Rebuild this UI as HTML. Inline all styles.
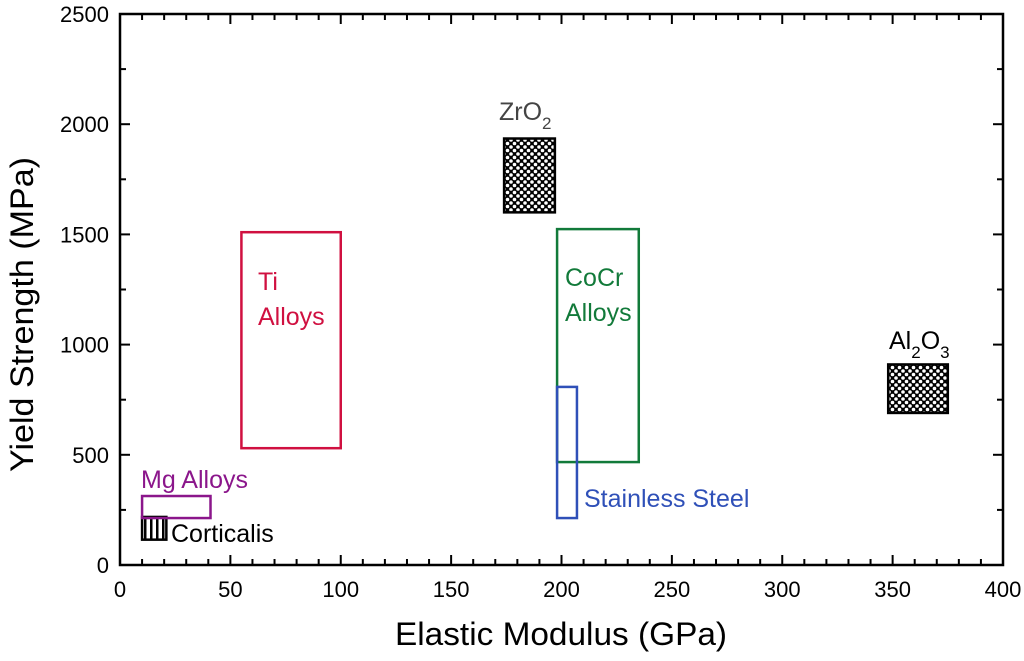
<!DOCTYPE html>
<html><head><meta charset="utf-8"><style>
html,body{margin:0;padding:0;background:#fff;}
svg text{font-family:"Liberation Sans",Arial,sans-serif;}
</style></head><body>
<svg id="chart" width="1024" height="656" viewBox="0 0 1024 656" xmlns="http://www.w3.org/2000/svg">
<defs>
<pattern id="dots" width="7" height="7" patternUnits="userSpaceOnUse">
<rect width="7" height="7" fill="#000"/>
<circle cx="0" cy="0" r="1.8" fill="#fff"/>
<circle cx="7" cy="0" r="1.8" fill="#fff"/>
<circle cx="0" cy="7" r="1.8" fill="#fff"/>
<circle cx="7" cy="7" r="1.8" fill="#fff"/>
<circle cx="3.5" cy="3.5" r="1.8" fill="#fff"/>
</pattern>
<pattern id="vlines" width="6" height="6" patternUnits="userSpaceOnUse">
<rect width="6" height="6" fill="#fff"/>
<rect x="0" width="2.5" height="6" fill="#000"/>
</pattern>
</defs>
<g id="axes"></g>
<g id="marks"></g>
</svg>
<script>
const materials = ["Corticalis","Mg Alloys","Ti Alloys","ZrO2","CoCr Alloys","Stainless Steel","Al2O3"];
const eMin = [10, 10, 55, 174, 198, 198, 348];
const eMax = [21, 41, 100, 197, 235, 207, 375];
const sMin = [115, 213, 530, 1600, 467, 213, 690];
const sMax = [218, 313, 1510, 1935, 1524, 808, 910];
const xTicks = [0,50,100,150,200,250,300,350,400];
const yTicks = [0,500,1000,1500,2000,2500];

const L=120,R=1003,T=14,B=565;
const xs=v=>L+(v/400)*(R-L);
const ys=v=>B-(v/2500)*(B-T);
const NS="http://www.w3.org/2000/svg";
function mk(tag,attrs,parent){const e=document.createElementNS(NS,tag);for(const k in attrs)e.setAttribute(k,attrs[k]);parent.appendChild(e);return e;}
const ax=document.getElementById('axes');
const mg=document.getElementById('marks');

const frame=mk('rect',{x:L,y:T,width:R-L,height:B-T,fill:'none',stroke:'#000','stroke-width':2.5},ax);



for(let v=0;v<=400;v+=10){
  const x=xs(v),len=(v%50===0)?10:6;
  mk('line',{x1:x,y1:B,x2:x,y2:B-len,stroke:'#000','stroke-width':2},ax);
  mk('line',{x1:x,y1:T,x2:x,y2:T+len,stroke:'#000','stroke-width':2},ax);
}
for(let v=0;v<=2500;v+=250){
  const y=ys(v),len=(v%500===0)?10:6;
  mk('line',{x1:L,y1:y,x2:L+len,y2:y,stroke:'#000','stroke-width':2},ax);
  mk('line',{x1:R,y1:y,x2:R-len,y2:y,stroke:'#000','stroke-width':2},ax);
}
xTicks.forEach(v=>{
  const t=mk('text',{x:xs(v),y:B+32,'text-anchor':'middle','font-size':22},ax);
  t.textContent=v;
  
  
});
yTicks.forEach(v=>{
  const t=mk('text',{x:L-11,y:ys(v)+8,'text-anchor':'end','font-size':22},ax);
  t.textContent=v;
  
  
});
const xt=mk('text',{x:395,y:645,'font-size':32,textLength:332,lengthAdjust:'spacingAndGlyphs'},ax);
xt.textContent='Elastic Modulus (GPa)';


const yt=mk('text',{x:0,y:0,'text-anchor':'middle','font-size':32,transform:`translate(33,${(157+472)/2}) rotate(-90)`,textLength:315,lengthAdjust:'spacingAndGlyphs'},ax);
yt.textContent='Yield Strength (MPa)';



const styles=[
 {fill:'url(#vlines)',stroke:'#000'},
 {fill:'none',stroke:'#8b168b'},
 {fill:'none',stroke:'#d01040'},
 {fill:'url(#dots)',stroke:'#000'},
 {fill:'none',stroke:'#127a3a'},
 {fill:'none',stroke:'#2f50b8'},
 {fill:'url(#dots)',stroke:'#000'}
];
materials.forEach((m,i)=>{
  const x1=xs(eMin[i]),x2=xs(eMax[i]),y1=ys(sMax[i]),y2=ys(sMin[i]);
  const r=mk('rect',{x:x1,y:y1,width:x2-x1,height:y2-y1,fill:styles[i].fill,stroke:styles[i].stroke,'stroke-width':2.5},mg);
  
  
});
function label(lines,x,y,color,name){
  const t=mk('text',{x:x,y:y,'font-size':25,fill:color},mg);
  t.innerHTML=lines;
  
  
}
label('Corticalis',171,542,'#000','label-corticalis');
label('Mg Alloys',141,488,'#8b168b','label-mg-alloys');
label('<tspan x="258" dy="0">Ti</tspan><tspan x="258" dy="35">Alloys</tspan>',258,290,'#d01040','label-ti-alloys');
label('<tspan x="565" dy="0">CoCr</tspan><tspan x="565" dy="35">Alloys</tspan>',565,286,'#127a3a','label-cocr-alloys');
label('Stainless Steel',584,507,'#2f50b8','label-stainless-steel');
label('ZrO<tspan font-size="17" dy="9">2</tspan>',499,120,'#444','label-zro2');
label('Al<tspan font-size="17" dy="9">2</tspan><tspan dy="-9">O</tspan><tspan font-size="17" dy="9">3</tspan>',889,349,'#000','label-al2o3');
</script>
</body></html>
